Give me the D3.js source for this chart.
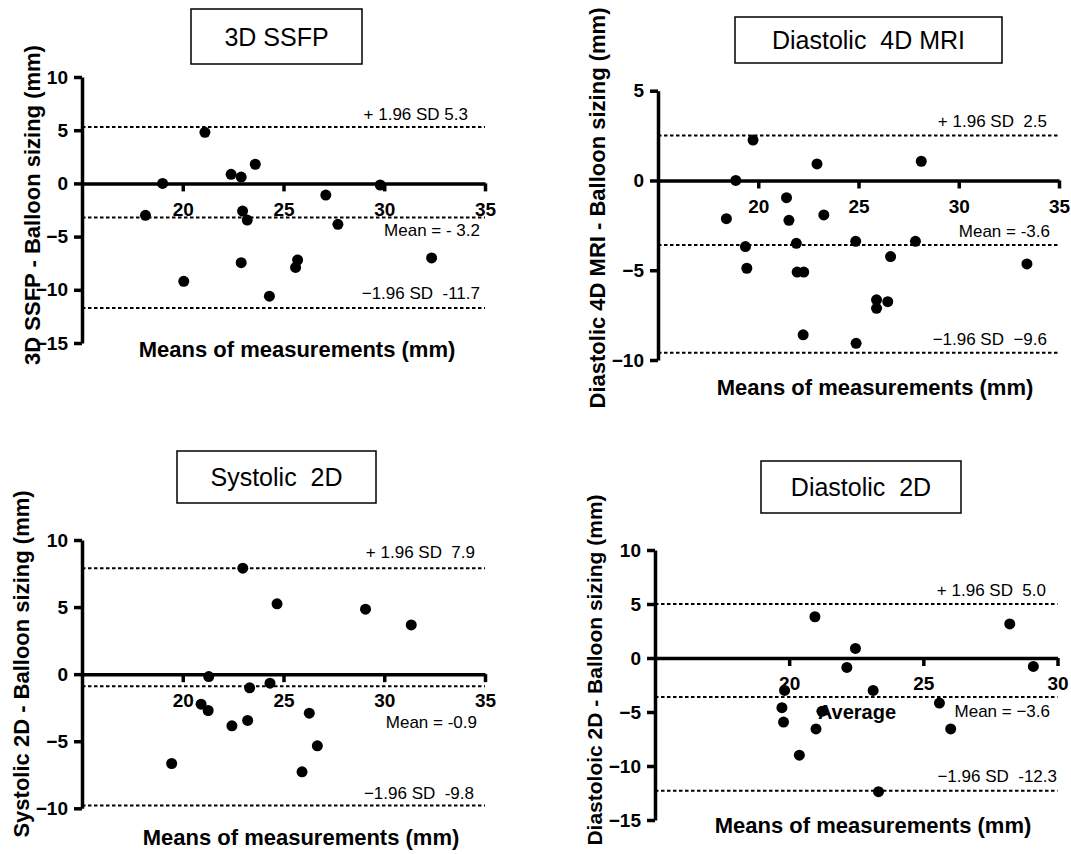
<!DOCTYPE html>
<html>
<head>
<meta charset="utf-8">
<script src="https://cdn.jsdelivr.net/npm/d3@7"></script>
<style>
  body { margin: 0; background: #fff; }
  text { font-family: "Liberation Sans", Arial, Helvetica, sans-serif; fill: #000; }
  .axis path, .axis line { stroke: #000; stroke-width: 3.5; }
  .axis text { font-size: 19px; font-weight: bold; }
  .note { font-size: 17px; white-space: pre; }
  .title { font-size: 25px; white-space: pre; }
  .axisLabel { font-size: 22px; font-weight: bold; }
</style>
</head>
<body>
<div id="chart"></div>
<script>
// Data
// ==============================
var ssfpMeans = [18.15, 19.0, 20.05, 21.1, 22.4, 22.9, 23.6, 22.97, 23.2, 22.9, 24.3, 25.6, 25.7, 27.1, 27.7, 29.8, 32.35];
var ssfpDiffs = [-3.0, 0, -9.2, 4.8, 0.85, 0.6, 1.8, -2.6, -3.45, -7.45, -10.6, -7.9, -7.2, -1.1, -3.85, -0.15, -7.0];
var ssfpLimits = [5.3, -3.2, -11.7];
var ssfpNotes = ["+ 1.96 SD 5.3", "Mean = - 3.2", "\u22121.96 SD  -11.7"];

var mri4dMeans = [18.41, 18.88, 19.36, 19.43, 19.74, 21.41, 21.53, 21.9, 21.94, 22.27, 22.24, 22.93, 23.27, 24.86, 24.88, 25.9, 25.9, 26.46, 26.6, 27.84, 28.13, 33.4];
var mri4dDiffs = [-2.13, 0, -3.68, -4.89, 2.25, -0.96, -2.22, -3.5, -5.1, -5.1, -8.6, 0.92, -1.92, -3.39, -9.07, -6.65, -7.12, -6.75, -4.24, -3.39, 1.07, -4.65];
var mri4dLimits = [2.5, -3.6, -9.6];
var mri4dNotes = ["+ 1.96 SD  2.5", "Mean = -3.6", "\u22121.96 SD  \u22129.6"];

var sys2dMeans = [19.45, 20.91, 21.26, 21.29, 22.44, 22.98, 23.22, 23.32, 24.33, 24.68, 25.92, 26.28, 26.68, 29.07, 31.34];
var sys2dDiffs = [-6.66, -2.24, -2.71, -0.18, -3.85, 7.9, -3.45, -1.02, -0.67, 5.24, -7.28, -2.91, -5.34, 4.84, 3.67];
var sys2dLimits = [7.9, -0.9, -9.8];
var sys2dNotes = ["+ 1.96 SD  7.9", "Mean = -0.9", "\u22121.96 SD  -9.8"];

var dia2dMeans = [19.73, 19.79, 19.83, 20.38, 20.96, 21.0, 21.22, 22.15, 22.47, 23.13, 23.33, 25.6, 26.02, 28.22, 29.1];
var dia2dDiffs = [-4.6, -5.93, -3.0, -9.0, 3.82, -6.57, -4.94, -0.87, 0.89, -3.0, -12.38, -4.17, -6.57, 3.15, -0.78];
var dia2dLimits = [5.0, -3.6, -12.3];
var dia2dNotes = ["+ 1.96 SD  5.0", "Mean = \u22123.6", "\u22121.96 SD  -12.3"];

var xTicksTo35 = [20, 25, 30, 35];
var xTicksTo30 = [20, 25, 30];

var svg = d3.select("#chart")
  .append("svg")
  .attr("width", 1071)
  .attr("height", 854);

// Panel layout (pixel positions), data comes from the arrays above
var panels = [
  {title: "3D SSFP", yLabel: "3D SSFP - Balloon sizing (mm)", yLabelSize: 22,
   means: ssfpMeans, diffs: ssfpDiffs, limits: ssfpLimits, notes: ssfpNotes,
   xDomain: [15, 35], yDomain: [-15, 10], xTicks: xTicksTo35, yTicks: [10, 5, 0, -5, -10, -15],
   xRange: [82, 485], yRange: [343, 77], box: [191, 9, 171, 55],
   yLabelPos: [32, 205], xLabelPos: [297, 357],
   noteRight: [468, 480, 480], noteDy: [-7, 19, -9]},
  {title: "Diastolic  4D MRI", yLabel: "Diastolic 4D MRI - Balloon sizing (mm)", yLabelSize: 22,
   means: mri4dMeans, diffs: mri4dDiffs, limits: mri4dLimits, notes: mri4dNotes,
   xDomain: [15, 35], yDomain: [-10, 5], xTicks: xTicksTo35, yTicks: [5, 0, -5, -10],
   xRange: [658, 1059], yRange: [360, 90.7], box: [735, 17, 267, 46],
   yLabelPos: [597, 208], xLabelPos: [875, 395],
   noteRight: [1047, 1050, 1047], noteDy: [-9, -8, -8]},
  {title: "Systolic  2D", yLabel: "Systolic 2D - Balloon sizing (mm)", yLabelSize: 22,
   means: sys2dMeans, diffs: sys2dDiffs, limits: sys2dLimits, notes: sys2dNotes,
   xDomain: [15, 35], yDomain: [-10, 10], xTicks: xTicksTo35, yTicks: [10, 5, 0, -5, -10],
   xRange: [82, 485], yRange: [808.3, 540], box: [177, 451, 199, 52],
   yLabelPos: [21, 664], xLabelPos: [301, 845],
   noteRight: [475, 477, 474], noteDy: [-10, 42, -7]},
  {title: "Diastolic  2D", yLabel: "Diastoloic 2D - Balloon sizing (mm)", yLabelSize: 21,
   means: dia2dMeans, diffs: dia2dDiffs, limits: dia2dLimits, notes: dia2dNotes,
   xDomain: [15, 30], yDomain: [-15, 10], xTicks: xTicksTo30, yTicks: [10, 5, 0, -5, -10, -15],
   xRange: [655, 1057.5], yRange: [820, 550], box: [761, 461, 200, 52],
   yLabelPos: [595, 670], xLabelPos: [873, 833],
   noteRight: [1046, 1050, 1057], noteDy: [-8, 20, -9],
   extra: {text: "Average", x: 857, y: 719}}
];

panels.forEach(function(p) {
  var g = svg.append("g");

  // Step 1: scales
  var x = d3.scaleLinear().domain(p.xDomain).range(p.xRange);
  var y = d3.scaleLinear().domain(p.yDomain).range(p.yRange);

  // Step 2: title box
  g.append("rect")
    .attr("x", p.box[0]).attr("y", p.box[1])
    .attr("width", p.box[2]).attr("height", p.box[3])
    .attr("fill", "#fff").attr("stroke", "#000").attr("stroke-width", 1.5);
  g.append("text")
    .attr("class", "title")
    .attr("x", p.box[0] + p.box[2] / 2)
    .attr("y", p.box[1] + p.box[3] / 2 + 9)
    .attr("text-anchor", "middle")
    .text(p.title);

  // Step 3: dashed limit / mean lines with their notes
  p.limits.forEach(function(v, i) {
    g.append("line")
      .attr("x1", x(p.xDomain[0])).attr("x2", x(p.xDomain[1]))
      .attr("y1", y(v)).attr("y2", y(v))
      .attr("stroke", "#000").attr("stroke-width", 2)
      .attr("stroke-dasharray", "3.5,2.5");
    g.append("text")
      .attr("class", "note")
      .attr("x", p.noteRight[i])
      .attr("y", y(v) + p.noteDy[i])
      .attr("text-anchor", "end")
      .text(p.notes[i]);
  });

  // Step 4: axes (x axis sits on zero)
  g.append("g")
    .attr("class", "axis")
    .attr("transform", `translate(${x(p.xDomain[0])}, 0)`)
    .call(d3.axisLeft(y).tickValues(p.yTicks).tickSize(8).tickSizeOuter(0).tickPadding(6));

  g.append("g")
    .attr("class", "axis")
    .attr("transform", `translate(0, ${y(0)})`)
    .call(d3.axisBottom(x).tickValues(p.xTicks).tickSize(8).tickSizeOuter(0).tickPadding(11));

  // Step 5: points
  g.selectAll("circle")
    .data(p.means)
    .enter()
    .append("circle")
    .attr("cx", d => x(d))
    .attr("cy", (d, i) => y(p.diffs[i]))
    .attr("r", 5.5)
    .attr("fill", "#000");

  // Step 6: axis labels
  g.append("text")
    .attr("class", "axisLabel")
    .attr("transform", `translate(${p.yLabelPos[0]}, ${p.yLabelPos[1]}) rotate(-90)`)
    .attr("dy", "0.35em")
    .attr("text-anchor", "middle")
    .style("font-size", p.yLabelSize + "px")
    .text(p.yLabel);

  g.append("text")
    .attr("class", "axisLabel")
    .attr("x", p.xLabelPos[0])
    .attr("y", p.xLabelPos[1])
    .attr("text-anchor", "middle")
    .text("Means of measurements (mm)");

  if (p.extra) {
    g.append("text")
      .attr("x", p.extra.x)
      .attr("y", p.extra.y)
      .attr("text-anchor", "middle")
      .style("font-size", "20px")
      .style("font-weight", "bold")
      .text(p.extra.text);
  }
});
</script>
</body>
</html>
